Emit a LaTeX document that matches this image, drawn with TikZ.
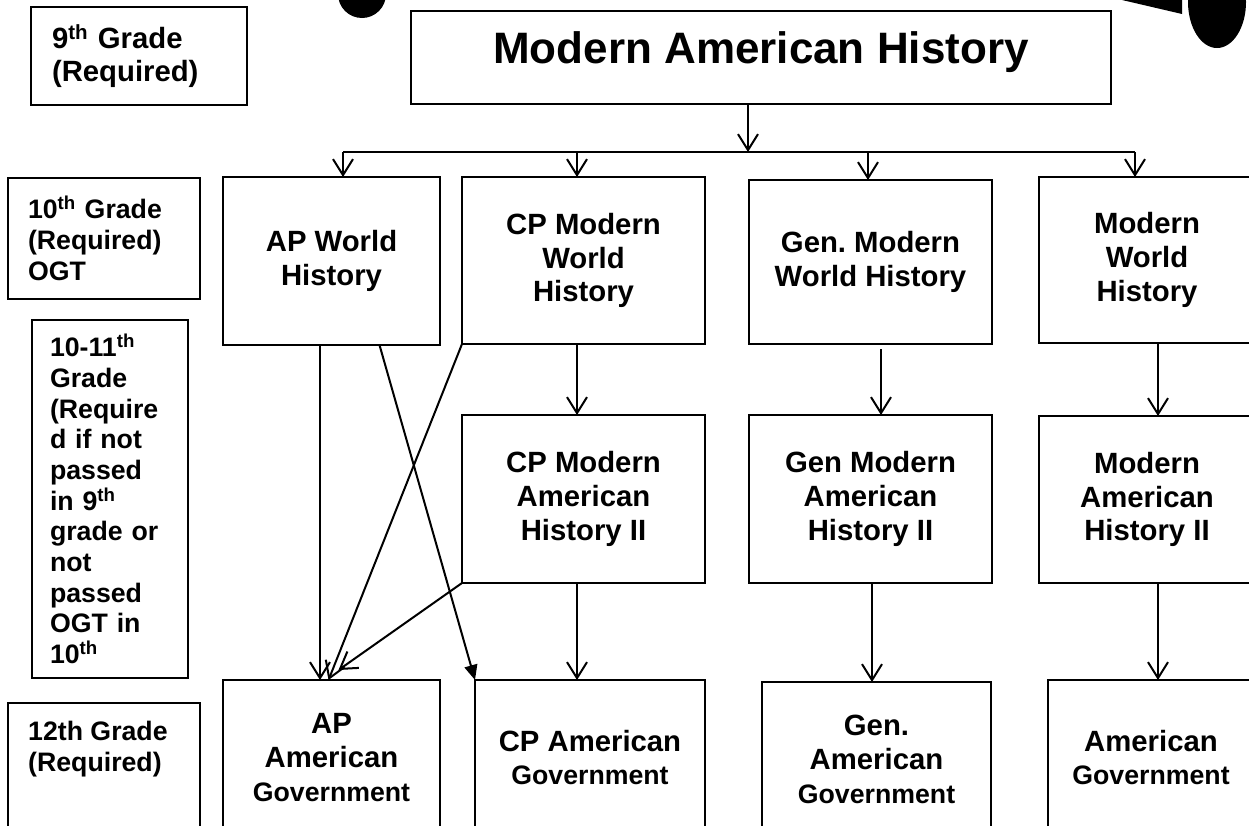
\documentclass[tikz,border=0pt]{standalone}
\usepackage{fontspec}
\setmainfont{Liberation Sans}
\usetikzlibrary{arrows.meta,positioning,calc}
\newcommand{\crsfont}{\fontsize{29.3}{33.7}\selectfont\bfseries}
\newcommand{\govfont}{\fontsize{26.7}{30.7}\selectfont}
\newcommand{\gradefont}{\fontsize{26.7}{30.7}\selectfont\bfseries}
\newcommand{\headfont}{\fontsize{44}{50}\selectfont\bfseries}
\frenchspacing

\begin{document}
\begin{tikzpicture}[
  x=1pt, y=-1pt,
  course/.style={draw, line width=2.4pt, inner sep=0pt, outer sep=0pt, anchor=north west, align=center, font=\crsfont},
  grade/.style={draw, line width=2.4pt, inner ysep=0pt, outer sep=0pt, anchor=north west, align=left, font=\crsfont},
  arr/.style={-{Straight Barb[length=16pt,width=20pt]}, line width=2pt},
  fillarr/.style={-{Triangle[length=15pt,width=13pt]}, line width=2pt}
]
\useasboundingbox (0,0) rectangle (1249,825);

\fill (362,-6) circle[radius=24];
\fill (1122,0) -- (1182,0) -- (1182,14) -- cycle;
\fill (1217,2) ellipse[x radius=29, y radius=46];

\node[grade, inner xsep=21, text width=174, minimum height=98] (g9) at (31,7) {9\textsuperscript{th} Grade\\(Required)};
\node[grade, font=\gradefont, inner xsep=20, text width=152, minimum height=121] (g10) at (8,178) {10\textsuperscript{th} Grade\\(Required)\\OGT};
\node[grade, font=\gradefont, inner xsep=18, text width=120, minimum height=358] (g1011) at (32,320) {10-11\textsuperscript{th}\\Grade\\(Require\\d if not\\passed\\in 9\textsuperscript{th}\\grade or\\not\\passed\\OGT in\\10\textsuperscript{th}};
\node[grade, minimum width=192, minimum height=150] (g12) at (8,703) {};
\node[font=\gradefont, align=left, anchor=north west, inner sep=0pt] (g12txt) at (28,721) {12th Grade\\(Required)};

\node[course, font=\headfont, minimum width=700, minimum height=93, text depth=20] (mah) at (411,11) {Modern American History};

\node[course, minimum width=217, minimum height=168] (apw) at (223,177) {AP World\\History};
\node[course, minimum width=243, minimum height=167] (cpw) at (462,177) {CP Modern\\World\\History};
\node[course, minimum width=243, minimum height=164] (gmw) at (749,180) {Gen. Modern\\World History};
\node[course, minimum width=216, minimum height=166] (mw) at (1039,177) {Modern\\World\\History};

\node[course, minimum width=243, minimum height=168] (cpa) at (462,415) {CP Modern\\American\\History II};
\node[course, minimum width=243, minimum height=168] (gma) at (749,415) {Gen Modern\\American\\History II};
\node[course, minimum width=216, minimum height=167] (ma) at (1039,416) {Modern\\American\\History II};

\node[course, minimum width=217, minimum height=155] (apg) at (223,680) {AP\\American\\{\govfont Government}};
\node[course, minimum width=230, minimum height=155] (cpg) at (475,680) {CP American\\{\govfont Government}};
\node[course, minimum width=229, minimum height=155] (gg) at (762,682) {Gen.\\American\\{\govfont Government}};
\node[course, minimum width=206, minimum height=155] (ag) at (1048,680) {American\\{\govfont Government}};

\coordinate (split) at (748,152);
\coordinate (busL) at (343,152);
\coordinate (busR) at (1135,152);
\coordinate (c2) at (577,152);
\coordinate (c3) at (868,152);
\coordinate (c1) at (320,0);
\coordinate (c3b) at (872,0);
\coordinate (c4) at (1158,0);
\coordinate (gtop) at (881,349);

\draw[arr] (mah.south -| split) -- (split);
\draw[line width=2pt] (busL) -- (busR);
\foreach \p/\n in {busL/apw, c2/cpw, c3/gmw, busR/mw}
  \draw[arr] (\p) -- (\p |- \n.north);

\draw[arr] (c2 |- cpw.south) -- (c2 |- cpa.north);
\draw[arr] (gtop) -- (gtop |- gma.north);
\draw[arr] (c4 |- mw.south) -- (c4 |- ma.north);

\draw[arr] (c2 |- cpa.south) -- (c2 |- cpg.north);
\draw[arr] (c3b |- gma.south) -- (c3b |- gg.north);
\draw[arr] (c4 |- ma.south) -- (c4 |- ag.north);

\draw[arr] (c1 |- apw.south) -- (c1 |- apg.north);
\draw[fillarr] ([xshift=48pt]apw.south) -- (cpg.north west);
\draw[arr] (cpw.south west) -- ([xshift=-3pt]apg.north);
\draw[arr] (cpa.south west) -- ([xshift=7pt,yshift=10pt]apg.north);
\end{tikzpicture}
\end{document}
